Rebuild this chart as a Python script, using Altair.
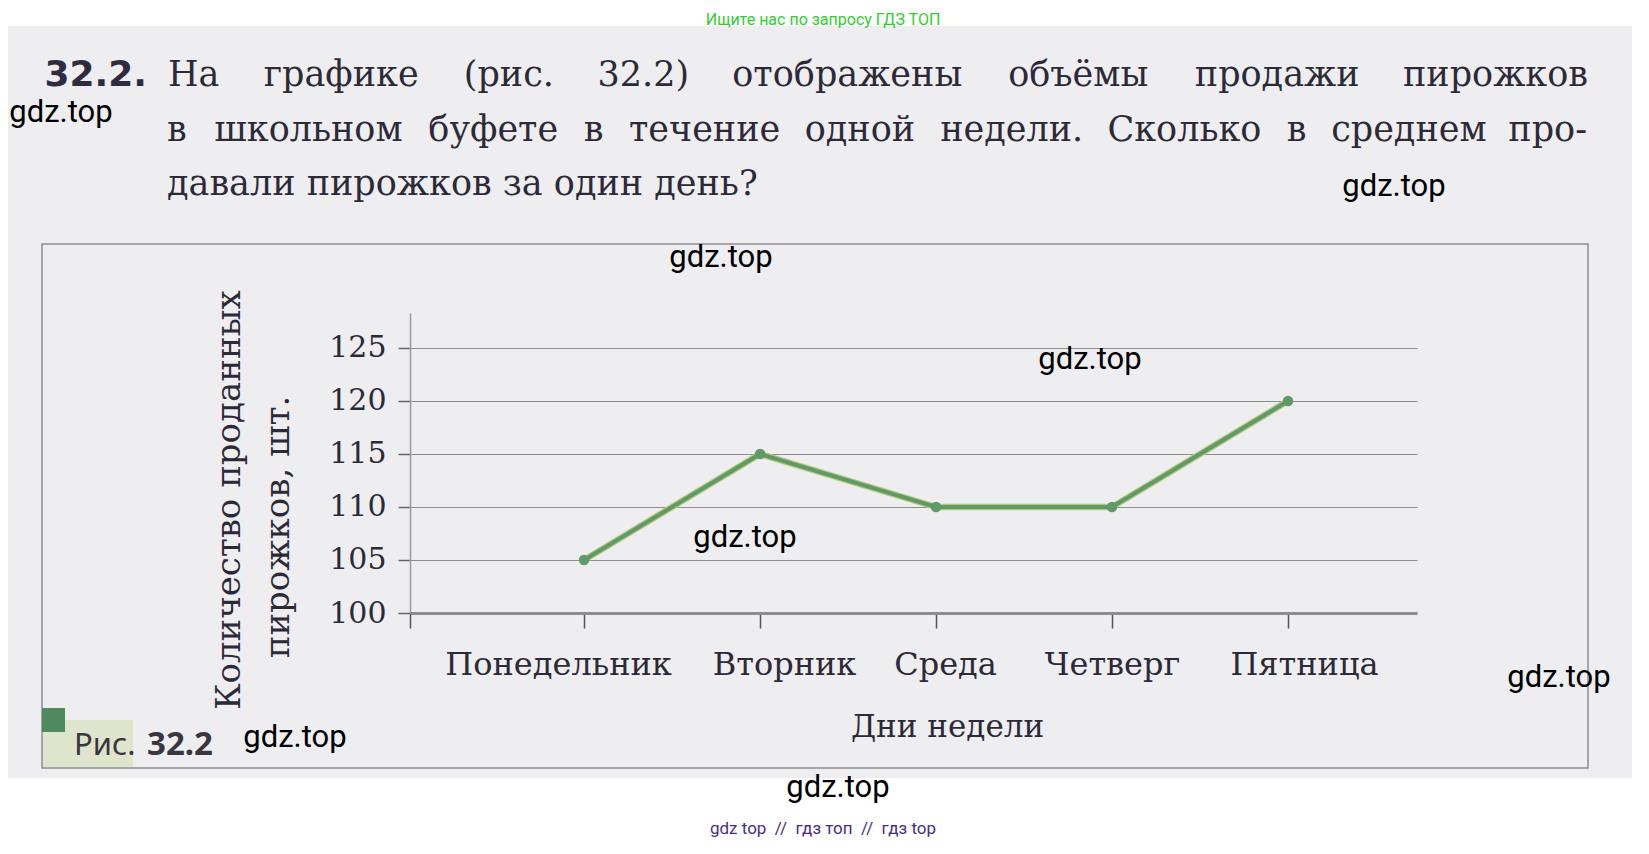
import altair as alt
import pandas as pd

# ---------------- data ----------------
days = ["Понедельник", "Вторник", "Среда", "Четверг", "Пятница"]
sales = [105, 115, 110, 110, 120]
y_ticks = [100, 105, 110, 115, 120, 125]
y_title_lines = ["Количество проданных", "пирожков, шт."]
x_title = "Дни недели"
task_number = "32.2."
task_lines = [
    "На графике (рис. 32.2) отображены объёмы продажи пирожков",
    "в школьном буфете в течение одной недели. Сколько в среднем про-",
    "давали пирожков за один день?",
]
caption_prefix = "Рис."
caption_number = "32.2"
top_banner = "Ищите нас по запросу ГДЗ ТОП"
bottom_banner = "gdz top \u00a0//\u00a0 гдз топ \u00a0//\u00a0 гдз top"
watermark = "gdz.top"

# ---------------- layout (page pixels) ----------------
OX, OY = 410, 313          # plot origin on the page
W, H = 1007, 300           # plot area


def px(x):
    return x - OX


def py(y):
    return y - OY


SERIF = "DejaVu Serif"
INK = "#2d2a38"
PARA = 35

EM = {' ': .318, '.': .318, ',': .318, '(': .39, ')': .39, '-': .338, '?': .53,
      'а': .596, 'б': .605, 'в': .63, 'г': .56, 'д': .68, 'е': .592, 'ё': .592,
      'ж': .93, 'з': .53, 'и': .71, 'й': .71, 'к': .66, 'л': .68, 'м': .82,
      'н': .71, 'о': .602, 'п': .71, 'р': .641, 'с': .552, 'т': .62, 'у': .6,
      'ф': .86, 'х': .562, 'ц': .72, 'ч': .68, 'ш': 1.0, 'щ': 1.0, 'ъ': .72,
      'ы': .9, 'ь': .63, 'э': .56, 'ю': .88, 'я': .66,
      'Н': .874, 'С': .734, 'П': .874}
for d in "0123456789":
    EM[d] = .636


def text_width(s, size):
    return 0.95 * sum(EM.get(c, .65) for c in s) * size


def label(text, X, Y, size, font=SERIF, color=INK, align="left",
          baseline="alphabetic", weight="normal", angle=None):
    kw = dict(font=font, fontSize=size, color=color, align=align,
              baseline=baseline, fontWeight=weight)
    if angle is not None:
        kw["angle"] = angle
    return alt.Chart(pd.DataFrame({"t": [text]})).mark_text(**kw).encode(
        x=alt.value(px(X)), y=alt.value(py(Y)), text="t:N")


def box(X1, Y1, X2, Y2, fill, stroke=None, sw=0, fill_opacity=1.0):
    kw = dict(fill=fill, fillOpacity=fill_opacity, strokeWidth=sw)
    if stroke:
        kw["stroke"] = stroke
    return alt.Chart(pd.DataFrame({"a": [0]})).mark_rect(**kw).encode(
        x=alt.value(px(X1)), x2=alt.value(px(X2)),
        y=alt.value(py(Y1)), y2=alt.value(py(Y2)))


def justified(line, L, R, Y, size):
    words = line.split(" ")
    widths = [text_width(w, size) for w in words]
    gap = (R - L - sum(widths)) / (len(words) - 1)
    out = []
    x = L
    for k, (w, wd) in enumerate(zip(words, widths)):
        if k == 0:
            out.append(label(w, L, Y, size, align="left"))
        elif k == len(words) - 1:
            out.append(label(w, R, Y, size, align="right"))
        else:
            out.append(label(w, x + wd / 2, Y, size, align="center"))
        x += wd + gap
    return out


# ---------------- data chart ----------------
df = pd.DataFrame({"i": list(range(len(days))), "day": days, "sales": sales})
x_lo, x_hi = -0.989, 4.733
label_expr = ("datum.value < 0 ? '' : [" + ",".join("'" + d + "'" for d in days)
              + "][datum.value]")
# labels in the figure are typeset slightly off their tick marks
label_offset = {"condition": [{"test": "datum.value == 0", "value": -26},
                              {"test": "datum.value == 1", "value": 24},
                              {"test": "datum.value == 2", "value": 9},
                              {"test": "datum.value == 4", "value": 16}],
                "value": 0}

xs = alt.Scale(domain=[x_lo, x_hi], nice=False, zero=False)
ys = alt.Scale(domain=[100, 128.3], nice=False, zero=False)

base = alt.Chart(df).encode(
    x=alt.X("i:Q", scale=xs, axis=alt.Axis(
        values=[x_lo] + list(range(len(days))), labelExpr=label_expr, grid=False,
        title=x_title, titleX=px(947), titleY=123, titleAlign="center",
        titleAnchor="start", titleBaseline="alphabetic", titleFont=SERIF,
        titleFontSize=31, titleFontWeight="normal", titleColor=INK,
        labelFont=SERIF, labelFontSize=32, labelColor=INK, labelLimit=600,
        labelBaseline="alphabetic", labelPadding=46, labelFlush=False,
        labelOverlap=False, labelOffset=label_offset,
        tickSize=15, tickColor="#555555", tickWidth=1.5,
        domainColor="#8c8c8c", domainWidth=3)),
    y=alt.Y("sales:Q", scale=ys, axis=alt.Axis(
        values=y_ticks, title=None, grid=True, gridColor="#8e8e8e",
        gridWidth=1.2, labelFont=SERIF, labelFontSize=30, labelColor=INK,
        labelPadding=12, tickSize=12, tickColor="#666666", tickWidth=1.5,
        domainColor="#9a9a9a", domainWidth=1.5)),
)

halo = base.mark_line(color="#b7c97a", strokeWidth=6.5)
line = base.mark_line(color="#5f9a68", strokeWidth=4)
dots = base.mark_circle(size=110, color="#5f9a68", opacity=1)

# ---------------- page decoration ----------------
layers = [
    box(0, 0, 1649, 26, "#ffffff"),
    box(0, 778, 1649, 860, "#ffffff"),
    box(1632, 26, 1649, 778, "#ffffff"),
    box(42, 244, 1588, 768, "#f2f2f4", stroke="#8d8d93", sw=1.5, fill_opacity=0.0),
    box(43, 720, 133, 767, "#dfe5cc"),
    box(42, 708, 65, 732, "#4f8a5c"),
    halo, line, dots,
]

# paragraph
layers.append(label(task_number, 147, 86, 36, font="DejaVu Sans", weight="bold",
                    color="#2f2b40", align="right"))
layers += justified(task_lines[0], 168, 1588, 86, PARA)
layers += justified(task_lines[1], 167, 1587, 141, PARA)
layers.append(label(task_lines[2], 167, 195, PARA))

# y-axis title (two rotated lines)
layers.append(label(y_title_lines[0], 230, 500, 34, align="center",
                    baseline="middle", angle=270))
layers.append(label(y_title_lines[1], 279, 527, 34, align="center",
                    baseline="middle", angle=270))

# figure caption
layers.append(label(caption_prefix, 74, 755, 31, font="Noto Sans", color="#3a3640"))
layers.append(label(caption_number, 147, 755, 33, font="Noto Sans", weight="bold",
                    color="#3a3640"))

# banners
layers.append(label(top_banner, 823, 20, 16, font="Roboto", color="#33cc33",
                    align="center", baseline="middle"))
layers.append(label(bottom_banner, 823, 829, 17, font="Roboto", color="#4a2d82",
                    align="center", baseline="middle"))

# watermarks
for (wx, wy) in [(61, 113), (1394, 187), (721, 258), (1090, 360),
                 (745, 538), (1559, 678), (295, 738), (838, 788)]:
    layers.append(label(watermark, wx, wy, 31, font="Roboto", color="#000000",
                        align="center", baseline="middle"))

chart = alt.layer(*layers).properties(
    width=W, height=H,
    autosize=alt.AutoSizeParams(type="none"),
    padding={"left": OX - 8, "top": OY - 8, "right": 1631 - (OX - 8) - W,
             "bottom": 830 - (OY - 8) - H},
    background="#eeeef1",
).configure_view(stroke=None)

chart.save("out.html", embed_options={"renderer": "svg", "actions": False})
